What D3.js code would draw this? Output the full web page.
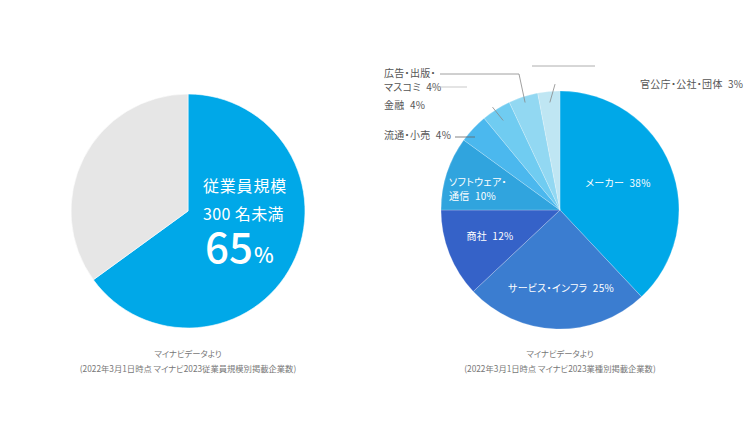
<!DOCTYPE html>
<html><head><meta charset="utf-8">
<script src="https://cdn.jsdelivr.net/npm/d3@7"></script>
<style>
html,body{margin:0;padding:0;background:#fff;}
svg{display:block;font-family:"Noto Sans CJK JP","Noto Sans",sans-serif;font-feature-settings:"palt" 1;}
</style></head>
<body><svg id="c" width="750" height="422"></svg>
<script>
// ---- data ----
const sizeCategories = ["従業員規模300名未満", "300名以上"];
const sizeValues = [65, 35];
const industryCategories = ["メーカー", "サービス・インフラ", "商社", "ソフトウェア・通信", "流通・小売", "金融", "広告・出版・マスコミ", "官公庁・公社・団体"];
const industryValues = [38, 25, 12, 10, 4, 4, 4, 3];
const industryLabels = [["メーカー 38%"], ["サービス・インフラ 25%"], ["商社 12%"], ["ソフトウェア・", "通信 10%"], ["流通・小売 4%"], ["金融 4%"], ["広告・出版・", "マスコミ 4%"], ["官公庁・公社・団体 3%"]];
const sourceLeft = ["マイナビデータより", "(2022年3月1日時点 マイナビ2023従業員規模別掲載企業数)"];
const sourceRight = ["マイナビデータより", "(2022年3月1日時点 マイナビ2023業種別掲載企業数)"];

const svg = d3.select("#c");
const pie = d3.pie().sort(null).value(d => d);

// ---- left pie ----
const L = {cx: 188, cy: 211, r: 117};
const leftColor = d3.scaleOrdinal().domain(sizeCategories).range(["#00a8e8", "#e6e6e6"]);
const gl = svg.append("g").attr("transform", `translate(${L.cx},${L.cy})`);
const arcL = d3.arc().innerRadius(0).outerRadius(L.r);
gl.selectAll("path").data(pie(sizeValues)).join("path")
  .attr("d", arcL).attr("fill", (d, i) => leftColor(sizeCategories[i]))
  .attr("stroke", "#fff").attr("stroke-width", 0.6);
const tl = gl.append("g").attr("fill", "#fff");
tl.append("text").attr("x", 15).attr("y", -19).attr("font-size", 16).attr("letter-spacing", 0.8).text("従業員規模");
tl.append("text").attr("x", 15).attr("y", 9).attr("font-size", 16).attr("letter-spacing", 0.4).text("300 名未満");
const big = tl.append("text").attr("x", 17).attr("y", 52).attr("font-weight", 500);
big.append("tspan").attr("font-size", 42).text(sizeValues[0]);
big.append("tspan").attr("font-size", 21).attr("dx", 1).text("%");

// ---- right pie ----
const R = {cx: 560, cy: 210, r: 119};
const rightColor = d3.scaleOrdinal().domain(industryCategories)
  .range(["#00a8e8", "#3b7dd0", "#3562c8", "#30a4de", "#4bb8ee", "#70ccf1", "#92d8f2", "#bfe6f3"]);
const gr = svg.append("g").attr("transform", `translate(${R.cx},${R.cy})`);
const arcR = d3.arc().innerRadius(0).outerRadius(R.r);
const arcsR = pie(industryValues);
gr.selectAll("path").data(arcsR).join("path")
  .attr("d", arcR).attr("fill", (d, i) => rightColor(industryCategories[i]))
  .attr("stroke", "#fff").attr("stroke-opacity", 0.35).attr("stroke-width", 0.6);

const polar = (a, r) => [r * Math.sin(a), -r * Math.cos(a)];
const mid = d => (d.startAngle + d.endAngle) / 2;

// label layout (relative to pie centre)
const layout = [
  {x: 58, y: -26, anchor: "middle", fill: "#fff"},
  {x: 1, y: 79, anchor: "middle", fill: "#fff"},
  {x: -70, y: 27, anchor: "middle", fill: "#fff"},
  {x: -111, y: -27, anchor: "start", fill: "#fff", dy: 14},
  {x: -176, y: -74, anchor: "start", fill: "#555"},
  {x: -176, y: -104, anchor: "start", fill: "#555"},
  {x: -176, y: -136, anchor: "start", fill: "#555", dy: 14},
  {x: 80, y: -125, anchor: "start", fill: "#555"}
];
const labels = gr.append("g").attr("font-size", 10).attr("letter-spacing", 0.3);
arcsR.forEach((d, i) => {
  const lay = layout[i];
  const t = labels.append("text").attr("text-anchor", lay.anchor).attr("fill", lay.fill)
    .attr("x", lay.x).attr("y", lay.y).attr("dominant-baseline", "middle");
  industryLabels[i].forEach((s, k) => {
    t.append("tspan").attr("x", lay.x).attr("dy", k === 0 ? 0 : lay.dy).text(s.replace(" ", "\u2002"));
  });
});

// leader lines
const lines = gr.append("g").attr("fill", "none").attr("stroke-width", 0.8);
const lineDefs = [
  {i: 4, pts: d => [[-105, -73], [-85, -73]], c: "#666"},
  {i: 5, pts: d => [polar(mid(d) - 0.015, 123), polar(mid(d), 106)], c: "#888"},
  {i: 6, pts: d => [[-120, -136], [-41, -136], polar(mid(d), 113)], c: "#888"},
  {i: 6, pts: d => [[-130, -123], [-93, -123]], c: "#bbb"},
  {i: 7, pts: d => [[-28, -144], [35, -144]], c: "#999"},
  {i: 7, pts: d => [polar(mid(d) + 0.055, 126), polar(mid(d), 108)], c: "#888"}
];
lineDefs.forEach(l => {
  lines.append("path").attr("stroke", l.c).attr("d", d3.line()(l.pts(arcsR[l.i])));
});

// ---- sources ----
function source(x, lines) {
  const g = svg.append("g").attr("font-size", 8.3).attr("fill", "#777").attr("text-anchor", "middle");
  lines.forEach((s, k) => g.append("text").attr("x", x).attr("y", 357 + k * 15).text(s));
}
source(L.cx, sourceLeft);
source(R.cx, sourceRight);
</script></body></html>
